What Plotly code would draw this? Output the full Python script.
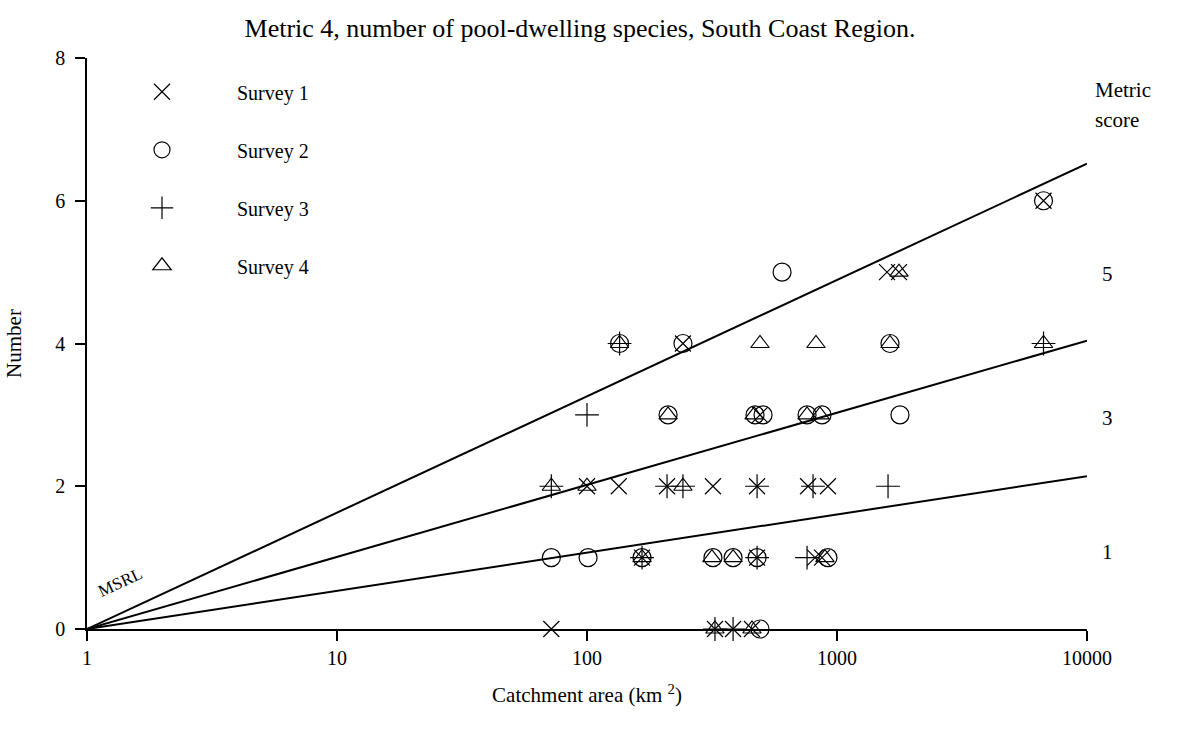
import plotly.graph_objects as go

# ---- data (catchment area km2, number of species) ----
s1_x = [6700, 1585, 1770, 242, 492, 100, 134, 209, 319, 479, 766, 920, 166, 479, 817, 871, 72, 325, 384, 457]
s1_y = [6, 5, 5, 4, 3, 2, 2, 2, 2, 2, 2, 2, 1, 1, 1, 1, 0, 0, 0, 0]

s2_x = [6700, 603, 135, 242, 1629, 211, 470, 506, 759, 871, 1786, 72, 101, 166, 319, 384, 479, 920, 492]
s2_y = [6, 5, 4, 4, 4, 3, 3, 3, 3, 3, 3, 1, 1, 1, 1, 1, 1, 1, 0]

s3_x = [135, 6700, 100, 72, 209, 242, 479, 802, 1600, 166, 479, 759, 325, 384]
s3_y = [4, 4, 3, 2, 2, 2, 2, 2, 2, 1, 1, 1, 0, 0]

s4_x = [1770, 135, 492, 824, 1629, 6700, 211, 466, 759, 855, 72, 100, 242, 166, 316, 384, 895, 325, 457]
s4_y = [5, 4, 4, 4, 4, 4, 3, 3, 3, 3, 2, 2, 2, 1, 1, 1, 1, 0, 0]

survey_names = ["Survey 1", "Survey 2", "Survey 3", "Survey 4"]
survey_symbols = ["x-thin-open", "circle-open", "cross-thin-open", "triangle-up-open"]
survey_sizes = [16, 18, 17, 16]

# boundary lines (MSRL and score divisions)
line_x = [1, 10000]
msrl_y = [0, 6.52]
mid_y = [0, 4.04]
low_y = [0, 2.14]

x_ticks = [1, 10, 100, 1000, 10000]
x_tick_text = ["1", "10", "100", "1000", "10000"]
y_ticks = [0, 2, 4, 6, 8]

FONT = "Liberation Serif, Times New Roman, serif"

fig = go.Figure()

for ly in [msrl_y, mid_y, low_y]:
    fig.add_trace(go.Scatter(x=line_x, y=ly, mode="lines",
                             line=dict(color="black", width=2),
                             showlegend=False, hoverinfo="skip", cliponaxis=False))

pad = "\u00a0" * 11
for i, (xs, ys) in enumerate([(s1_x, s1_y), (s2_x, s2_y), (s3_x, s3_y), (s4_x, s4_y)]):
    fig.add_trace(go.Scatter(
        x=xs, y=ys, mode="markers", name=pad + survey_names[i],
        legendgroup="g%d" % i,
        marker=dict(symbol=survey_symbols[i], size=survey_sizes[i], color="black",
                    line=dict(color="black", width=1.2)),
        cliponaxis=False))

fig.update_layout(
    width=1186, height=731,
    margin=dict(l=87, r=99, t=58, b=102),
    paper_bgcolor="white", plot_bgcolor="white",
    font=dict(family=FONT, color="black", size=20),
    title=dict(text="Metric 4, number of pool-dwelling species, South Coast Region.",
               x=580 / 1186, xanchor="center", y=1 - 28 / 731, yanchor="middle",
               font=dict(family=FONT, size=26, color="black")),
    legend=dict(x=0.055, y=0.975, xanchor="left", yanchor="top",
                bgcolor="rgba(0,0,0,0)", tracegroupgap=29,
                font=dict(family=FONT, size=20, color="black")),
    xaxis=dict(type="log", range=[0, 4], tickvals=x_ticks, ticktext=x_tick_text,
               showgrid=False, zeroline=False, showline=True, linecolor="black",
               linewidth=1.5, ticks="outside", ticklen=10, tickwidth=1.5,
               tickcolor="black", tickfont=dict(family=FONT, size=20),
               title=dict(text="Catchment area (km <sup>2</sup>)",
                          font=dict(family=FONT, size=21), standoff=20)),
    yaxis=dict(range=[0, 8], tickvals=y_ticks, showgrid=False, zeroline=False,
               showline=True, linecolor="black", linewidth=1.5, ticks="outside",
               ticklen=10, tickwidth=1.5, tickcolor="black", ticklabelstandoff=6,
               tickfont=dict(family=FONT, size=20),
               title=dict(text="Number", font=dict(family=FONT, size=21), standoff=28)),
)

for txt, yy in [("Metric", 0.944), ("score", 0.891)]:
    fig.add_annotation(xref="paper", yref="paper", x=1.006, y=yy, text=txt,
                       showarrow=False, xanchor="left", yanchor="middle",
                       font=dict(family=FONT, size=21, color="black"))

for txt, yy in [("5", 0.622), ("3", 0.3695), ("1", 0.135)]:
    fig.add_annotation(xref="paper", yref="paper", x=1.02, y=yy, text=txt,
                       showarrow=False, xanchor="center", yanchor="middle",
                       font=dict(family=FONT, size=21, color="black"))

fig.add_annotation(xref="paper", yref="paper", x=0.033, y=0.082, text="MSRL",
                   showarrow=False, textangle=-25, xanchor="center", yanchor="middle",
                   font=dict(family=FONT, size=17, color="black"))

fig.write_html("out.html")
